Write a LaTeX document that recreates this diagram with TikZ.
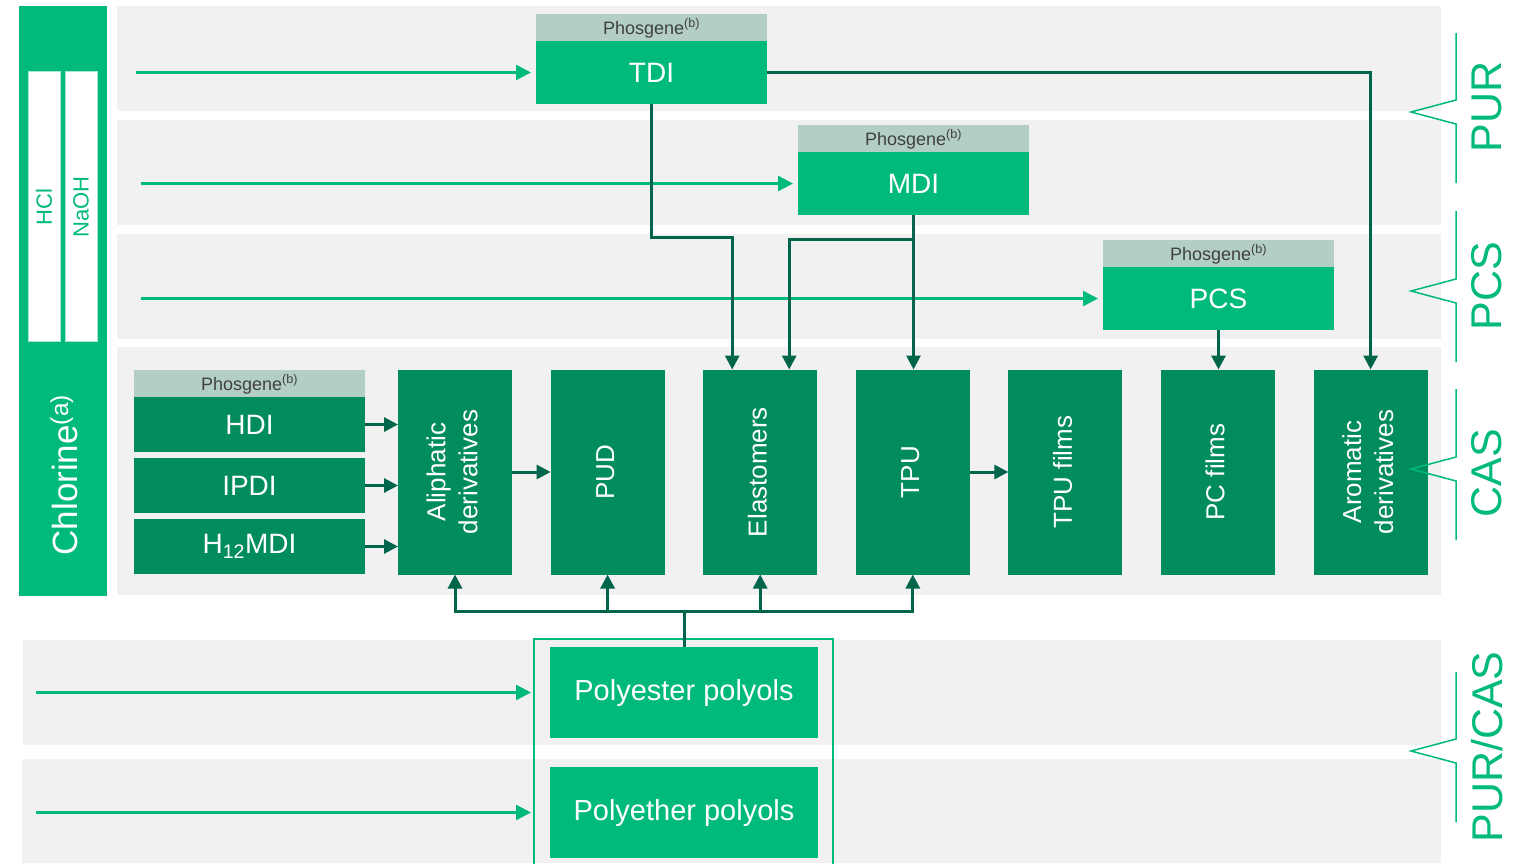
\documentclass[tikz,border=0pt]{standalone}
\usepackage{fontspec}
\setmainfont{Liberation Sans}
\usepackage{graphicx}
\usetikzlibrary{arrows.meta, positioning}
\definecolor{ChemGreen}{HTML}{00BA7C}
\definecolor{ChemDark}{HTML}{008C5E}
\definecolor{LinkGreen}{HTML}{00654A}
\definecolor{HeadGrey}{HTML}{B3CEC5}
\definecolor{BandGrey}{HTML}{F1F1F1}
\definecolor{TextGrey}{HTML}{404040}
\newcommand{\pxfont}[2]{\fontsize{#1pt}{#2pt}\selectfont}
\newcommand{\vlabel}[1]{\rotatebox{90}{\begin{tabular}{@{}c@{}}#1\end{tabular}}}

\begin{document}
\begin{tikzpicture}[
  x=1pt, y=-1pt,
  every node/.style={outer sep=0pt},
  band/.style={fill=BandGrey},
  mono/.style={rectangle, fill=ChemGreen, text=white, minimum width=231pt, minimum height=63pt,
    inner sep=0pt, font=\pxfont{28}{32}},
  phos/.style={rectangle, fill=HeadGrey, text=TextGrey, minimum width=231pt, minimum height=27pt,
    inner sep=0pt, text height=13pt, text depth=0pt, font=\pxfont{18}{20}},
  iso/.style={rectangle, fill=ChemDark, text=white, minimum width=231pt, minimum height=55pt,
    inner sep=0pt, font=\pxfont{28}{32}},
  deriv/.style={rectangle, fill=ChemDark, text=white, minimum width=114pt, minimum height=205pt,
    inner sep=0pt, font=\pxfont{26}{32}},
  polyol/.style={rectangle, fill=ChemGreen, text=white, minimum width=268pt, minimum height=91pt,
    inner sep=0pt, font=\pxfont{29}{33}},
  feed/.style={-{Triangle[length=15pt,width=15pt]}, line width=2.5pt, draw=ChemGreen, shorten >=5pt},
  link/.style={-{Triangle[length=14pt,width=14pt]}, line width=3pt, draw=LinkGreen},
  bracket/.style={draw=ChemGreen, line width=1.5pt},
  side/.style={text=ChemGreen, font=\pxfont{43}{48}, rotate=90}
]
\useasboundingbox (0,0) rectangle (1524,863);

% grey bands
\fill[band] (117,6) rectangle (1441,111);
\fill[band] (117,120) rectangle (1441,225);
\fill[band] (117,234) rectangle (1441,339);
\fill[band] (117,347) rectangle (1441,595);
\fill[band] (23,640) rectangle (1441,745);
\fill[band] (22,759) rectangle (1441,863);

% chlorine column
\fill[ChemGreen] (19,6) rectangle (107,596);
\draw[fill=white, draw=ChemGreen!35, line width=0.8pt] (28,71) rectangle (60,341);
\draw[fill=white, draw=ChemGreen!35, line width=0.8pt] (65,71) rectangle (97,341);
\node[rotate=90, text=ChemGreen, font=\pxfont{22}{26}] (hcl) at (44,207) {HCl};
\node[rotate=90, text=ChemGreen, font=\pxfont{22}{26}] (naoh) at (81,207) {NaOH};
\node[rotate=90, text=white, font=\pxfont{35}{40}] (chlorine) at (64,475) {Chlorine\textsuperscript{(a)}};

% isocyanates made with phosgene
\node[mono] (tdi) at (651.5,72.5) {TDI};
\node[phos, above=0pt of tdi] (tdi-ph) {Phosgene\textsuperscript{(b)}};
\node[mono] (mdi) at (913.5,183.5) {MDI};
\node[phos, above=0pt of mdi] (mdi-ph) {Phosgene\textsuperscript{(b)}};
\node[mono] (pcs) at (1218.5,298.5) {PCS};
\node[phos, above=0pt of pcs] (pcs-ph) {Phosgene\textsuperscript{(b)}};

% aliphatic isocyanates
\node[iso] (hdi) at (249.5,424.5) {HDI};
\node[phos, above=0pt of hdi] (hdi-ph) {Phosgene\textsuperscript{(b)}};
\node[iso, below=6pt of hdi] (ipdi) {IPDI};
\node[iso, below=6pt of ipdi] (hmdi) {H\textsubscript{12}MDI};

% downstream products
\node[deriv] (ali) at (455,472) {\vlabel{Aliphatic\\derivatives}};
\node[deriv, right=38.6pt of ali] (pud) {\vlabel{PUD}};
\node[deriv, right=38.6pt of pud] (ela) {\vlabel{Elastomers}};
\node[deriv, right=38.6pt of ela] (tpu) {\vlabel{TPU}};
\node[deriv, right=38.6pt of tpu] (tpf) {\vlabel{TPU films}};
\node[deriv, right=38.6pt of tpf] (pcf) {\vlabel{PC films}};
\node[deriv, right=38.6pt of pcf] (aro) {\vlabel{Aromatic\\derivatives}};

% polyols
\node[polyol] (pes) at (684,692.5) {Polyester polyols};
\node[polyol] (pet) at (684,812.5) {Polyether polyols};
\node[draw=ChemGreen, line width=1.2pt, minimum width=299pt, minimum height=231pt]
  (polyols) at (683.5,754.5) {};

% feeds
\coordinate (src-tdi) at (136,72.5);
\coordinate (src-mdi) at (141,183.5);
\coordinate (src-pcs) at (141,298.5);
\coordinate (src-pes) at (36,692.5);
\coordinate (src-pet) at (36,812.5);
\draw[feed] (src-tdi) -- (tdi.west);
\draw[feed] (src-mdi) -- (mdi.west);
\draw[feed] (src-pcs) -- (pcs.west);
\draw[feed, shorten >=3pt] (src-pes) -- (src-pes -| polyols.west);
\draw[feed, shorten >=3pt] (src-pet) -- (src-pet -| polyols.west);

% links between products
\draw[link] (tdi.east) -| (aro.north);
\draw[link] (tdi.south) -- ++(0,133) -| ([xshift=-28pt]ela.north);
\draw[link] ([yshift=-24pt]mdi.south) -| ([xshift=29pt]ela.north);
\draw[link] (mdi.south) -- (mdi.south |- tpu.north);
\draw[link] (pcs.south) -- (pcs.south |- pcf.north);
\draw[link] (hdi.east) -- (hdi.east -| ali.west);
\draw[link] (ipdi.east) -- (ipdi.east -| ali.west);
\draw[link] (hmdi.east) -- (hmdi.east -| ali.west);
\draw[link] (ali) -- (pud);
\draw[link] (tpu) -- (tpf);

% polyol supply
\draw[link, -] (pes.north) -- ++(0,-36) coordinate (bus);
\foreach \n in {ali, pud, ela, tpu}
  \draw[link] (bus) -| (\n.south);

% value chain brackets
\foreach \top/\tip/\bot in {33/112/183, 211/291/362, 389/469/540, 672/751/822}
  \draw[bracket] (1456,\top) -- (1456,\tip-12) -- (1411,\tip) -- (1456,\tip+12) -- (1456,\bot);
\node[side] (pur) at (1487,107) {PUR};
\node[side] (pcs-chain) at (1487,286) {PCS};
\node[side] (cas) at (1487,473) {CAS};
\node[side] (purcas) at (1487,747) {PUR/CAS};
\end{tikzpicture}
\end{document}
